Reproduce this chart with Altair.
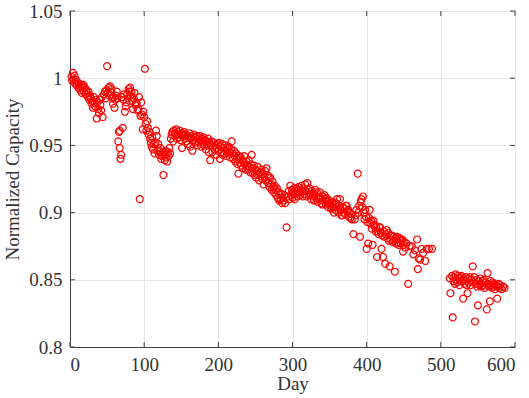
import altair as alt
import pandas as pd

# ---- data ----
days = [
    2, 3, 4, 5, 6, 7, 8, 9, 10, 11, 12, 13, 14, 15, 16, 17, 18, 19, 20, 21, 22, 23, 24, 25, 26, 27, 28, 29, 30,
    31, 32, 33, 34, 35, 36, 37, 38, 39, 40, 41, 42, 43, 44,
    46, 47, 48, 49, 50, 51, 52, 53, 54, 55, 56, 57, 58, 59, 60, 61, 62, 63, 64, 65, 66, 67, 67, 68, 69, 70,
    71, 72, 73, 74, 75, 76, 77, 78, 79, 80, 81, 82, 83, 84, 85, 86, 87, 88, 89, 90, 91, 92, 93, 94, 95, 96,
    97, 98, 99, 100, 101,
    102, 103, 104, 105, 106, 107, 108, 109, 110, 111, 112, 113, 114, 115, 116, 117, 118, 119, 120, 121, 122,
    123, 124, 125, 126, 127, 128, 129, 130, 131, 132, 133, 134, 135,
    136, 137, 138, 139, 140, 141, 142, 143, 144, 145, 146, 147, 148, 149, 150, 151, 152, 153, 154, 155, 156,
    157, 158, 159, 160, 161, 162, 163, 164, 165, 166, 167, 168, 169, 170, 171, 172, 173, 174, 175, 176, 177,
    178, 179, 180, 181, 182, 183, 184, 185, 186, 187, 188, 189, 190, 191, 192, 193, 194, 195, 196, 197, 198,
    199, 200,
    201, 202, 203, 204, 205, 206, 207, 208, 209, 210, 211, 212, 213, 214, 215, 216, 217, 218, 219, 220, 221,
    222, 223, 224, 225, 226, 227, 228, 229, 230, 231, 232, 233, 234, 235, 236, 237, 238, 239, 240, 241, 242,
    243, 244, 245, 246, 247, 248, 249, 250, 251, 252, 253, 254, 255, 256, 257, 258, 259, 260, 261, 262, 263,
    264, 265, 266, 267, 268, 269, 270, 271, 272, 273, 274, 275, 276, 277, 278, 279, 280, 281, 282, 283, 284,
    285, 286, 287, 288, 289, 290, 292,
    294, 295, 296, 297, 298, 299, 300, 301, 302, 303, 304, 305, 306, 307, 308, 309, 310, 311, 312, 313, 314,
    315, 316, 317, 318, 319, 320, 321, 322, 323, 324, 325, 326, 327, 328, 329, 330, 331, 332, 333, 334, 335,
    336, 337, 338, 339, 340, 341, 342, 343, 344, 345, 346, 347, 348, 349, 350, 351, 352, 353, 354, 355, 356,
    357, 358, 359, 360, 361, 362, 363, 364, 365, 366, 367, 368, 369, 370, 371, 372, 373, 374, 375, 376, 377,
    378, 379, 380,
    382, 384, 385, 386, 388, 389, 390, 391, 392, 393, 394, 395, 396, 397, 398, 399, 400, 401, 402, 403, 404,
    405, 406, 407, 408, 409, 410, 411, 412, 413, 414, 415, 416, 417, 418, 419, 420, 421, 422, 423, 424, 425,
    426, 427, 428, 429, 430, 431, 432, 433, 434, 435, 436, 437, 438, 439, 440, 441, 442, 443, 444, 445, 446,
    447, 448, 449, 450, 451, 452, 454, 456, 458, 461, 463, 465, 468, 469, 470, 472, 474, 476, 479, 481, 484,
    488,
    512, 513, 515, 516, 517, 518, 519, 520, 521, 522, 523, 524, 525, 526, 527, 528, 530, 531, 532, 533, 534,
    535, 536, 537, 538, 539, 540, 541, 543, 544, 545, 546, 547, 548, 549, 550, 551, 552, 553, 554, 555, 556,
    557, 558, 559, 560, 562, 563, 564, 565, 566, 567, 568, 569, 570, 571, 572, 573, 574, 576, 577, 578, 579,
    580, 582, 584, 586,
]

capacity = [
    1.001, 0.998, 1.004, 0.999, 1.002, 0.996, 0.999, 0.995, 0.997, 0.993, 0.996, 0.994, 0.991, 0.995, 0.989,
    0.993, 0.995, 0.990, 0.993, 0.988, 0.991, 0.989, 0.986, 0.990, 0.984, 0.987, 0.985, 0.981, 0.983, 0.978,
    0.986, 0.982, 0.979, 0.984, 0.970, 0.982, 0.977, 0.974, 0.984, 0.980, 0.976, 0.986, 0.971,
    0.988, 0.990, 0.985, 0.991, 1.009, 0.989, 0.993, 0.987, 0.994, 0.990, 0.992, 0.985, 0.981, 0.986, 0.978,
    0.984, 0.987, 0.990, 0.985, 0.953, 0.960, 0.948, 0.961, 0.940, 0.943, 0.986, 0.963, 0.984, 0.988, 0.975,
    0.979, 0.982, 0.988, 0.985, 0.992, 0.990, 0.993, 0.987, 0.990, 0.983, 0.977, 0.985, 0.989, 0.980, 0.982,
    0.981, 0.976, 0.977, 0.986, 0.910, 0.972, 0.982, 0.973, 0.962, 0.975, 0.971, 1.007,
    0.966, 0.961, 0.968, 0.963, 0.958, 0.960, 0.955, 0.952, 0.949, 0.956, 0.947, 0.951, 0.944, 0.952, 0.961,
    0.957, 0.946, 0.951, 0.943, 0.946, 0.948, 0.940, 0.942, 0.945, 0.928, 0.943, 0.939, 0.946, 0.941, 0.938,
    0.945, 0.942, 0.948, 0.944,
    0.955, 0.958, 0.960, 0.953, 0.961, 0.957, 0.959, 0.962, 0.955, 0.960, 0.958, 0.956, 0.961, 0.954, 0.958,
    0.948, 0.959, 0.957, 0.960, 0.955, 0.958, 0.953, 0.957, 0.951, 0.956, 0.959, 0.949, 0.955, 0.957, 0.946,
    0.954, 0.958, 0.952, 0.956, 0.953, 0.957, 0.950, 0.955, 0.952, 0.957, 0.954, 0.949, 0.955, 0.952, 0.956,
    0.950, 0.954, 0.947, 0.953, 0.951, 0.955, 0.945, 0.952, 0.939, 0.950, 0.953, 0.945, 0.949, 0.952, 0.947,
    0.950, 0.943, 0.948, 0.951, 0.946,
    0.952, 0.940, 0.949, 0.945, 0.951, 0.943, 0.948, 0.944, 0.950, 0.946, 0.942, 0.948, 0.944, 0.949, 0.945,
    0.941, 0.947, 0.953, 0.944, 0.940, 0.946, 0.942, 0.938, 0.944, 0.940, 0.936, 0.929, 0.942, 0.937, 0.941,
    0.935, 0.939, 0.933, 0.938, 0.942, 0.936, 0.932, 0.938, 0.935, 0.932, 0.939, 0.934, 0.930, 0.936, 0.943,
    0.933, 0.929, 0.935, 0.928, 0.932, 0.926, 0.931, 0.934, 0.928, 0.924, 0.930, 0.927, 0.932, 0.925, 0.929,
    0.921, 0.927, 0.931, 0.924, 0.933, 0.928, 0.922, 0.926, 0.919, 0.926, 0.921, 0.917, 0.923, 0.919, 0.915,
    0.920, 0.917, 0.913, 0.918, 0.911, 0.915, 0.909, 0.913, 0.910, 0.914, 0.907, 0.911, 0.909, 0.913, 0.907,
    0.889,
    0.912, 0.916, 0.910, 0.920, 0.913, 0.917, 0.911, 0.915, 0.918, 0.910, 0.914, 0.918, 0.916, 0.912, 0.919,
    0.915, 0.913, 0.917, 0.920, 0.916, 0.912, 0.918, 0.914, 0.921, 0.916, 0.912, 0.922, 0.917, 0.913, 0.918,
    0.914, 0.910, 0.916, 0.912, 0.914, 0.909, 0.913, 0.917, 0.911, 0.915, 0.908, 0.912, 0.910, 0.915, 0.911,
    0.907, 0.906, 0.912, 0.909, 0.913, 0.910, 0.906, 0.911, 0.908, 0.904, 0.909, 0.906, 0.907, 0.903, 0.904,
    0.908, 0.904, 0.900, 0.906, 0.902, 0.907, 0.910, 0.904, 0.900, 0.905, 0.910, 0.902, 0.898, 0.898, 0.904,
    0.900, 0.903, 0.899, 0.905, 0.905, 0.901, 0.902, 0.897, 0.900, 0.896, 0.899, 0.895,
    0.884, 0.895, 0.898, 0.902, 0.929, 0.900, 0.905, 0.882, 0.908, 0.910, 0.904, 0.912, 0.900, 0.895, 0.902,
    0.897, 0.873, 0.893, 0.877, 0.896, 0.902, 0.892, 0.894, 0.888, 0.876, 0.894, 0.890, 0.891, 0.886, 0.889,
    0.867, 0.886, 0.884, 0.889, 0.889, 0.885, 0.873, 0.883, 0.867, 0.886, 0.882, 0.862, 0.884, 0.887, 0.881,
    0.885, 0.879, 0.860, 0.883, 0.880, 0.883, 0.878, 0.882, 0.879, 0.856, 0.881, 0.877, 0.882, 0.878, 0.876,
    0.881, 0.880, 0.877, 0.879, 0.880, 0.871, 0.876, 0.878, 0.874, 0.877, 0.847, 0.875, 0.875, 0.869, 0.872,
    0.880, 0.858, 0.866, 0.865, 0.873, 0.870, 0.864, 0.873, 0.873, 0.873,
    0.851, 0.840, 0.853, 0.822, 0.849, 0.852, 0.847, 0.854, 0.850, 0.848, 0.853, 0.851, 0.846, 0.852, 0.849,
    0.853, 0.836, 0.850, 0.847, 0.852, 0.849, 0.846, 0.840, 0.851, 0.848, 0.852, 0.846, 0.850, 0.860, 0.848,
    0.852, 0.819, 0.847, 0.850, 0.845, 0.831, 0.849, 0.846, 0.851, 0.847, 0.845, 0.849, 0.846, 0.850, 0.844,
    0.848, 0.828, 0.855, 0.847, 0.845, 0.834, 0.849, 0.846, 0.844, 0.848, 0.845, 0.847, 0.843, 0.846, 0.836,
    0.845, 0.847, 0.844, 0.846, 0.843, 0.845, 0.844,
]

x_ticks = [0, 100, 200, 300, 400, 500, 600]
y_ticks = [0.8, 0.85, 0.9, 0.95, 1.0, 1.05]

x_title = "Day"
y_title = "Normalized Capacity"

df = pd.DataFrame({"Day": days, "Capacity": capacity})
xt = pd.DataFrame({"Day": x_ticks})
yt = pd.DataFrame({"Capacity": y_ticks})

W, H = 445, 336
FONT = "Liberation Serif"
AX = "#404040"

xscale = alt.Scale(domain=[0, 600], nice=False, zero=False)
yscale = alt.Scale(domain=[0.8, 1.05], nice=False, zero=False)
xaxis = alt.Axis(values=x_ticks, title=x_title, format="d", labelPadding=8, titlePadding=0)
yaxis = alt.Axis(values=y_ticks, title=y_title, format=".2~f", labelPadding=8, titlePadding=6)

points = alt.Chart(df).mark_point(
    shape="circle", filled=False, color="#ff0000", size=48, strokeWidth=1.2, opacity=1
).encode(
    x=alt.X("Day:Q", scale=xscale, axis=xaxis),
    y=alt.Y("Capacity:Q", scale=yscale, axis=yaxis),
)

tick_bottom = alt.Chart(xt).mark_rule(color=AX, strokeWidth=1).encode(
    x=alt.X("Day:Q", scale=xscale, axis=xaxis), y=alt.value(H), y2=alt.value(H - 5))
tick_top = alt.Chart(xt).mark_rule(color=AX, strokeWidth=1).encode(
    x=alt.X("Day:Q", scale=xscale, axis=xaxis), y=alt.value(0), y2=alt.value(5))
tick_left = alt.Chart(yt).mark_rule(color=AX, strokeWidth=1).encode(
    y=alt.Y("Capacity:Q", scale=yscale, axis=yaxis), x=alt.value(0), x2=alt.value(5))
tick_right = alt.Chart(yt).mark_rule(color=AX, strokeWidth=1).encode(
    y=alt.Y("Capacity:Q", scale=yscale, axis=yaxis), x=alt.value(W), x2=alt.value(W - 5))

chart = alt.layer(tick_bottom, tick_top, tick_left, tick_right, points).properties(
    width=W, height=H,
    autosize="none",
    padding={"left": 70, "top": 11, "right": 14, "bottom": 51},
    background="white",
).configure_view(
    stroke=AX, strokeWidth=1
).configure_axis(
    grid=True, gridColor="#e6e6e6", gridWidth=1,
    domain=True, domainColor=AX, domainWidth=1,
    ticks=False,
    labelFont=FONT, labelFontSize=19, labelColor="#333333",
    titleFont=FONT, titleFontSize=19, titleFontWeight="normal", titleColor="#333333",
)

chart.save("out.html", embed_options={"renderer": "svg", "actions": False})
